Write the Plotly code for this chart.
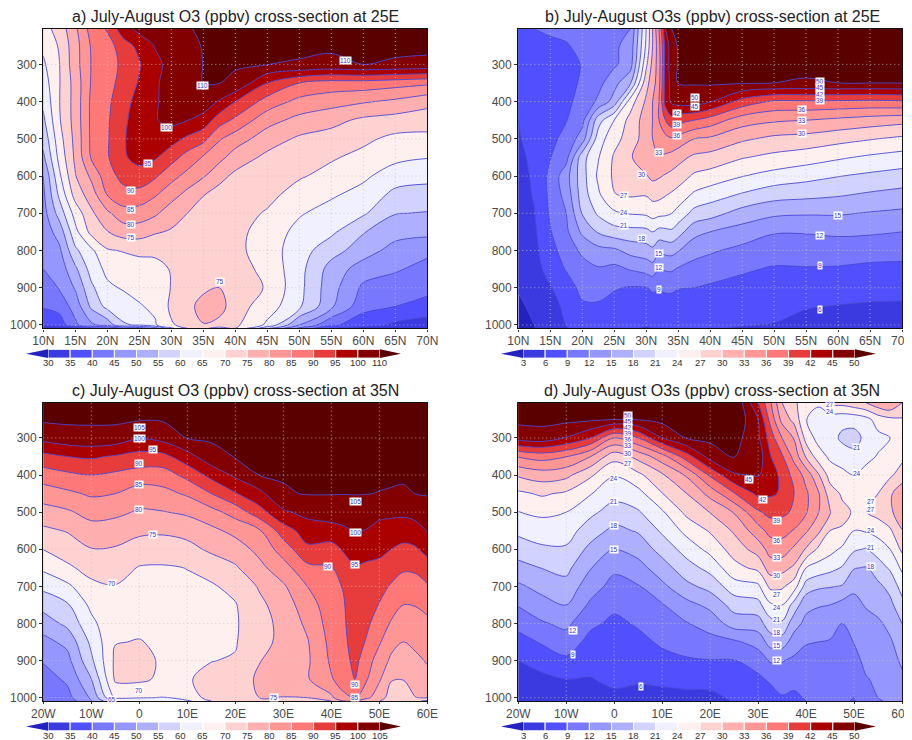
import numpy as np
import plotly.graph_objects as go

OFF = 8
W, H = 912, 740-OFF
P = [205,250,300,350,400,450,500,550,600,650,700,750,800,850,900,950,1000,1009]

COLORS = ["#2222c0","#3a3ae0","#5050ff","#7878ff","#9696ff","#afafff","#d2d2ff","#f0f0ff",
          "#fff0f0","#ffd2d2","#ffafaf","#ff9696","#ff7878","#e63c3c","#aa0000","#820000","#5a0000"]
LINE = "#4a4ad2"

levels_a = [30,35,40,45,50,55,60,65,70,75,80,85,90,95,100,110]
levels_b = [3,6,9,12,15,18,21,24,27,30,33,36,39,42,45,50]
levels_c = [30,35,40,45,50,55,60,65,70,75,80,85,90,95,100,105]
levels_d = levels_b

a_x = [10,12.5,15,17.5,20,22.5,25,27.5,30,32.5,35,37.5,40,45,50,55,60,65,70]
a_cols = [
[68,66,64.2,62.5,61,59,56.5,54,50,49,48,47.2,46,45,43,40.5,36,30],
[72,70.5,69.8,69.7,69.8,69.5,68,66.5,64,61,57,52,49,47,45.3,42,37,30],
[79,78,78,77,77,77,76.5,76,74.7,72,67,63.5,59,54,50.5,47,44,32],
[87,85.5,85.2,85.4,86,86,86,85.5,81,77.5,74,71.5,64,62,59,56,49,38],
[90.5,88,88,88.5,89,89.3,89.5,89.5,88,85.2,79,74.8,69.5,66.3,64,61.5,52,40],
[98,92.5,91,91.5,93,94,94.5,94.4,91.5,88.3,83,77.3,70.3,67.2,65.5,62.5,59.5,45],
[103,96.5,94.5,95.5,97,97.5,97.5,96.5,93,88.3,82.7,77.4,71,68,66.5,64.6,60.5,47],
[107,100.5,99,99.5,99.5,99.7,99.3,95.5,90.7,85.5,80.8,75.5,71,68.5,67,66,64.5,52],
[109,102,102.5,103,103.5,102.5,97,92,86.7,82,77.2,74.5,72,70.3,70.2,71,69.5,64],
[109.8,108.5,106.5,106.5,106,100.2,94,88,83.5,78.5,75,73.5,72.5,72,72.3,73.5,71.5,70],
[114,113,111.5,110.3,106,98,91.5,84.5,80.5,75.2,73,72.2,72,72,74,76.8,74.8,71],
[116,115,114,111,99.5,92.3,85.5,81.5,76.5,73.2,72,71.5,71.6,72,75,77,73.5,68],
[118,117,115,109,95,89,82.5,77.7,73.9,72.3,72,71.5,71.3,72.2,73.2,72.2,71,70],
[121,120,110.7,95,88,81.8,77.4,73.8,72,71.4,69.5,67.8,67.5,68.5,69.5,67.5,64,56],
[124,122,109.5,90,83.5,78.5,74.2,71.2,70.5,68,65.5,63.5,62.2,61.7,61.5,61,50,44],
[126,124,108,88,82,76.5,73,70.5,68.5,65.7,63,61,57,53,52,51,41,35],
[128,126,110.7,88,80.5,74,71,68.7,66,63.2,60.7,55.3,52.5,47.5,44,41.7,37,33],
[130,128,109,87,79,73,68.8,66.3,62.3,58.7,55.2,52,48,45.5,43,40,34,31],
[132,130,108,86,76.5,72.5,68.5,65.2,61.5,58,54.7,51.5,46,43.6,41.4,38.3,32.5,30],
]

b_x = [10,12.5,15,17.5,20,22.5,25,27.5,30,31,32,33,34,35,37.5,40,45,50,55,60,65,70]
b_cols = [
[8,7.8,7.5,7,6.6,6,5.8,5.5,5.3,5,4.8,4.5,4.2,3.8,3.2,2.5,2,2],
[9,8.3,8,7.8,7.5,7.2,6.9,6.5,6.3,6.2,5.9,5.5,5.2,4.7,4.2,3.6,3,2.9],
[9.3,8.6,8.4,8.3,8.2,8.1,8.3,8.9,9.8,9.7,9.4,8.8,8,7.3,5.8,5.2,4.5,4.2],
[10,8.7,8.4,8.3,8.5,8.9,9.8,11,13.8,13.1,12,11.4,10.3,9.2,7.7,6.5,6.1,5.8],
[11,10,9.1,9.3,9.8,11,13.5,19.9,19.8,19.5,18.2,15.6,12.6,10.8,9.8,8.6,7.5,7],
[11.5,10.8,10.5,11,12.6,19.7,22.5,23.8,24.5,23.5,21.5,18.3,14,11.7,9.9,8.7,7.4,7],
[11.8,11.5,11.5,14,16.2,24,26,27.4,27.5,26.9,23.5,19.7,14.4,11.2,9.2,8.2,7,6.5],
[12,13,13.6,17.5,25.5,28,28.3,29.7,29.2,27.4,24.2,20,16,12.2,8.8,8.1,6.9,6.3],
[24,24.5,26.3,29,30.5,31.4,31.5,31.8,29.8,27.2,24.5,20.2,16.7,13,8.9,8,6.2,5.8],
[30,30,31,31.5,33,33,33,32.6,30.7,28,25.2,21,17.3,13.7,9.3,8.1,6.2,6],
[36,35,34.6,35,36,36,35.5,32.7,30.3,27.9,24.8,20,15.5,11.9,9.2,8,6.3,6],
[45,43,43,43,43,39,35,32.5,29.7,27.2,24.6,20.2,15.9,12.3,9.4,8,6.3,6],
[50,48,48,47,46,41,35.7,31.8,29.2,26.6,24,20.5,16,12.4,9.4,8,6.4,6],
[55,54,53,51,47,40,35,31,28.6,25.8,23,19.2,15.2,11.7,9.1,8,6.4,6],
[60,58,56,53,47.5,39,33,29.4,26.5,23.5,20,16,13,11,9,7.9,6.5,6.1],
[62,60,58,56,45.3,37.7,32.5,28.9,25.8,22.4,19.2,15,12.4,10.4,8.6,7.7,6.5,6.2],
[65,63,60,53,40.8,34.4,30.5,27.2,24.1,20.7,16.8,13.7,11.2,9.4,8,7.3,6.1,5.8],
[65,63,58,50,38.5,33.4,29.3,26.2,22.9,19.2,15.6,12.2,10.4,8.7,7.8,6.9,5.9,5.5],
[65,63,58,49.7,38.6,33,28.9,25.4,22,18.8,15.3,12.2,10.4,8.8,7.5,6.2,5,4.8],
[65,63,58,50,38.5,32.3,28,24.4,21.1,18.3,15.3,12.5,10.5,8.7,7.3,5.9,4.8,4.6],
[65,63,58,50.5,38.3,31.6,27.2,23.5,20.4,17.6,14.8,12.4,10.1,8.4,7,5.7,4.7,4.5],
[65,63,58,50.5,38.6,31,26.4,22.8,19.8,17,14.4,12,10,8.3,7,5.6,4.6,4.4],
]

c_x = [-20,-15,-10,-5,0,5,10,15,20,25,30,35,40,42.5,45,47.5,50,52.5,55,57.5,60]
c_cols = [
[118,112,101.5,93.5,87.5,82.5,78,74,70.1,66,61.2,56.8,52.3,48.5,45.4,43,41,40],
[118,113,103,95,89,84,79.3,75.3,72.4,69.1,64,59.4,56.3,51.3,48.4,45.8,43.5,42],
[118,112,103.5,95.7,90,85.7,81.7,78,74.8,71.8,68.8,66.2,63.7,61.2,59,54.9,50.7,49.8],
[118,113,103,94.5,89,85,81,77.8,74.5,72,69.8,69,69.1,69.8,71,70.8,66,60],
[120,109,100.3,93,88,82.3,79.5,76,72.8,69.7,69,68.8,69,70.2,71.5,71,65.3,62],
[118,110,101.8,93.5,87.7,83.5,79.8,75.7,72.7,69.5,68.9,68.9,69,69.2,69.3,69,64.8,60],
[120,113,106.7,98,91.5,85.7,80.8,76.8,73.3,70.1,69.2,69.3,69.5,69.5,69.7,69.7,68.5,64],
[125,118,111,103.3,96.5,90,83.3,78.8,76,71.7,69.5,69.5,69.6,69.7,69.9,71,71,70],
[128,122,113,108,100.9,94.6,87,81.4,77.6,74.4,71.3,69.7,69.5,69.7,70.3,72.5,71.7,71],
[130,125,116,110,105.3,98.5,93,84.3,81.4,78.6,75.5,73.9,73,73.1,74.8,75.8,75,72],
[132,127,120,113,108,104.6,99.2,92.5,87.2,83,79.3,77.3,76.5,76.5,77,77,74.9,73],
[133,128,122,117,112,107.2,101.5,97.3,94,88.7,85,82.8,81,79.6,79.2,79.5,75,72],
[133,129,123,117,112,106.4,102.9,97.7,93.3,89.8,88.5,87.7,87.2,86.5,85.8,84.6,79,75],
[133,129,123,117,112,106.2,102.5,99.1,95.4,92.8,90.3,89.5,89.1,88.7,88,87,84,80],
[133,129,124,118,112,106.3,103.3,100.4,97.4,94.5,93.8,93.5,93.2,92.5,91.5,90.3,85,80],
[133,129,124,118,112,105.8,102.6,99.7,96.3,94.3,92.5,91.5,90.8,89.3,86.7,85.1,81,76],
[133,129,124,118,111,104.9,101.2,98.5,96.1,93.8,91.6,89.8,87.6,85.5,83,80.7,77,75.2],
[133,129,124,118,111,104.7,101,98,95,92.2,89.5,87,84.5,81.7,79,75.3,73,72],
[133,129,124,118,110,104.5,101,97.4,93.8,90.6,88,85,82.4,80,77.8,75.2,71.8,71],
[133,129,124,117,109,105.4,101.8,97.9,94.4,90.9,88,85.2,83,81,79,77,74.9,71],
[133,129,124,117,108,107,103.6,100.3,96.5,92.8,89.5,86.5,83.8,82.2,80.4,78.6,75.3,69],
]

d_x = [-20,-15,-10,-5,0,5,10,15,20,25,30,32.5,35,37.5,40,42.5,45,47.5,50,52.5,55,57.5,60]
d_cols = [
[70,62,47,36.2,30.4,26.4,23.9,21.7,19.4,17,14.5,12.2,9.9,7.9,6,4.6,3.5,3.4],
[70,62,48,37.2,31.5,27.4,24.6,22.5,20.5,18.1,16,13.9,11.7,9.3,7.3,5.3,4,3.9],
[72,63,44.8,36.1,30.8,26.5,24,22.3,20.6,18.8,17,15,12.7,10.6,8.4,6,4.4,4.3],
[75,59,42,33.1,27.5,24.2,21.7,19.5,17.2,15.2,13.3,11.5,9.6,8.1,6.8,5.9,4.6,4.4],
[85,51,36,28.1,24.2,22,19.7,17.2,14.8,12.6,11,9.6,8.4,7.5,6.9,6.5,5.5,5.3],
[80,54,39,31,26.3,23,20.7,18.3,16.2,13.9,11.8,10.5,9.3,8.3,7.4,6.4,5,4.7],
[90,65,45,34.8,29.6,26.9,23.6,21.5,19.1,16.7,14.3,11.8,10.6,9.4,8.2,6.7,5,4.7],
[95,75,52,40.5,33.3,29.9,27.7,24.8,22.2,19.7,17.2,14,11.8,10.2,8.7,7,5.2,4.9],
[105,90,62,47,39.5,34,30.1,27.3,24.9,22,19,15.8,13.2,11,8.9,7.2,5.2,5],
[110,95,70,52,44.6,38.8,33.2,30.4,28.3,26,22.7,19.2,16.4,11.5,8.9,7.5,6.5,6.2],
[42,45,46,48,45.4,42.7,38.6,34.7,31.3,27.8,23.4,20,16.6,13.1,10.4,8.4,7,6.8],
[36.5,38.2,40.8,42.2,43.5,42.4,39.9,37,34.1,31.5,27.7,23.5,19.8,16.2,12.3,9.5,7.5,7.3],
[30,32,36,39.4,41.2,41.7,39.7,37,34.6,31,27.5,24,20.5,16.5,12.2,10.2,8.8,8.6],
[27.5,29,32.8,35,38,39,38.5,35.8,32.4,29.5,25.4,19.8,16.2,13.6,11.4,9.8,8.5,8.2],
[25.5,24.1,25.8,29.7,35,36.5,36.3,33.4,29.7,24,19.7,15.8,14.2,12.2,11,10,9.2,9],
[24.5,22.6,23,25.5,30.5,33.5,33.2,30.8,26.5,22.8,18.5,15.2,13.8,12,11,10.2,9.5,9.3],
[28,22,22.3,23.4,25.7,28.5,30.2,27,25,21.9,18.2,15,13.8,11.7,10.8,10.2,9.7,9.5],
[28,21.9,20.4,22.6,24.8,26.6,27.8,26.7,23.5,20.8,17.8,14,12,11,10.4,9.9,9.5,9.2],
[29,22,20,21.8,24,26,26.7,24,21.4,18.2,15.5,14.3,13.4,12.1,11,10,9,8.9],
[30,23,21.7,23.2,25,26.4,26.9,24.3,20.8,17.8,16,15.2,14.2,13.7,12.8,11.8,10.4,10],
[32,25.3,23.2,24.2,25.7,27,28,25.2,22.2,19.7,17.3,16.1,14.5,14,13.4,12.5,12,11.5],
[33,26.3,24,25,26.5,29.5,29.5,26.5,24,21.4,18.9,17.2,15.8,14.6,14,13.5,12.9,12.7],
[30,26.7,25.5,26.3,28.3,32,31.5,29.9,27.6,24.6,22.2,20,18,16.5,15.4,14.5,13.6,13.4],
]

a_labels = [(57.2,289,"110"),(34.9,357,"110"),(29.3,469,"100"),(26.4,566,"95"),(23.7,639,"90"),(23.7,689,"85"),(23.7,730,"80"),(23.7,765,"75"),(37.6,883,"75")]
b_labels = [(37.7,388,"50"),(37.7,413,"45"),(34.8,432,"42"),(34.8,461,"39"),(34.8,492,"36"),(32,537,"33"),(29.3,595,"30"),(26.5,652,"27"),(26.5,698,"24"),(26.5,733,"21"),(29.3,768,"18"),(32,807,"15"),(32,847,"12"),(32,904,"9"),
            (57.2,346,"50"),(57.2,363,"45"),(57.2,381,"42"),(57.2,398,"39"),(54.4,422,"36"),(54.4,450,"33"),(54.4,486,"30"),(60,705,"15"),(57.2,759,"12"),(57.2,841,"9"),(57.2,958,"6")]
c_labels = [(0,273,"105"),(0,302,"100"),(2.8,332,"95"),(0,370,"90"),(0,426,"85"),(0,494,"80"),(2.8,559,"75"),(-5.6,693,"70"),(45,471,"105"),(45,556,"100"),(45,641,"95"),(39.4,646,"90"),(45,964,"90"),(45,1000,"85"),(28,1000,"75"),(0,982,"70"),(-5.6,1005,"65")]
d_labels = [(2.8,240,"50"),(2.8,257,"45"),(2.8,273,"42"),(2.8,288,"39"),(2.8,304,"36"),(2.8,321,"33"),(2.8,341,"30"),(2.8,368,"27"),(0,409,"24"),(0,472,"21"),(0,537,"18"),(0,600,"15"),(-8.5,820,"12"),(-8.5,885,"9"),(5.6,970,"6"),
            (28.2,411,"45"),(31,467,"42"),(33.9,523,"39"),(33.9,576,"36"),(33.9,623,"33"),(33.9,672,"30"),(33.9,721,"27"),(33.9,756,"24"),(33.9,790,"21"),(33.9,824,"18"),(33.9,859,"15"),(33.9,900,"12"),
            (45,210,"27"),(45,228,"24"),(50.7,327,"21"),(50.7,395,"24"),(53.5,472,"27"),(53.5,492,"27"),(53.5,550,"24"),(53.5,594,"21"),(53.5,647,"18")]

lat_ticks = list(range(10,71,5))
lat_text = [f"{v}N" for v in lat_ticks]
lon_ticks = list(range(-20,61,10))
lon_text = ["20W","10W","0","10E","20E","30E","40E","50E","60E"]
p_ticks = list(range(300,1001,100))

panels = [
 dict(t="a) July-August O3 (ppbv) cross-section at 25E", x=a_x, cols=a_cols, lv=levels_a, lab=a_labels, tv=lat_ticks, tt=lat_text, gx=lat_ticks, box=(43.3,427.3,29,328.3), rng=(10,70)),
 dict(t="b) July-August O3s (ppbv) cross-section at 25E", x=b_x, cols=b_cols, lv=levels_b, lab=b_labels, tv=lat_ticks, tt=lat_text, gx=lat_ticks, box=(518.3,902,29,328.3), rng=(10,70)),
 dict(t="c) July-August O3 (ppbv) cross-section at 35N", x=c_x, cols=c_cols, lv=levels_c, lab=c_labels, tv=lon_ticks, tt=lon_text, gx=lon_ticks, box=(43.3,427.3,402.7,701), rng=(-20,60)),
 dict(t="d) July-August O3s (ppbv) cross-section at 35N", x=d_x, cols=d_cols, lv=levels_d, lab=d_labels, tv=lon_ticks, tt=lon_text, gx=lon_ticks, box=(518.3,902,402.7,701), rng=(-20,60)),
]

FONT = "Liberation Sans"
TICK = "#4a4a4a"
fig = go.Figure()
shapes, annos = [], []
cs = [[i/16, c] for i, c in enumerate(COLORS)]

def px(x): return (x-OFF)/W
def py(y): return 1-(y-OFF)/H

for i, pn in enumerate(panels, start=1):
    l, r, t, b = pn["box"]
    xa, ya = f"x{i}", f"y{i}"
    lv = pn["lv"]
    n = len(lv)
    lo, hi = lv[0]-(lv[1]-lv[0]), lv[-1]+(lv[-1]-lv[-2])*10
    z = np.array(pn["cols"], dtype=float).T
    zi = np.interp(z, [lo]+lv+[hi], list(range(-1, n+1)))
    fig.add_trace(go.Contour(x=pn["x"], y=P, z=zi, xaxis=xa, yaxis=ya, colorscale=cs, showscale=False,
        autocontour=False, contours=dict(start=0, end=n-1, size=1, coloring="fill", showlines=True),
        line=dict(color=LINE, width=0.9, smoothing=1.0), hoverinfo="skip"))
    axk = dict(showline=True, mirror=True, linecolor="#111", linewidth=1.4, ticks="outside", tickwidth=1,
               tickcolor="#333", showgrid=False, zeroline=False, automargin=False,
               tickfont=dict(family=FONT, size=12, color=TICK))
    fig.update_layout(**{
        f"xaxis{i}": dict(domain=[px(l), px(r)], range=list(pn["rng"]), tickvals=pn["tv"], ticktext=pn["tt"], anchor=ya,
                          ticklen=2, ticklabelstandoff=-1, **axk),
        f"yaxis{i}": dict(domain=[py(b), py(t)], range=[1009,205], tickvals=p_ticks, anchor=xa, ticklen=3, **axk),
    })
    for gv in pn["gx"][1:-1]:
        shapes.append(dict(type="line", xref=xa, yref=ya, x0=gv, x1=gv, y0=205, y1=1009, layer="above",
                           line=dict(color="#c4c4c4", width=0.8, dash="1px,3px")))
    for gv in p_ticks:
        shapes.append(dict(type="line", xref=xa, yref=ya, x0=pn["rng"][0], x1=pn["rng"][1], y0=gv, y1=gv, layer="above",
                           line=dict(color="#c4c4c4", width=0.8, dash="1px,3px")))
    annos.append(dict(text=pn["t"], xref="paper", yref="paper", x=px((l+r)/2+(0.5 if i%2 else 2)), y=py(t-12), showarrow=False,
                      font=dict(family=FONT, size=16, color="#222"), xanchor="center", yanchor="middle"))
    for lx, lp, txt in pn["lab"]:
        annos.append(dict(text=txt, x=lx, y=lp, xref=xa, yref=ya, showarrow=False, bgcolor="white", borderpad=0,
                          font=dict(family=FONT, size=6.5, color="#3333cc"), xanchor="center", yanchor="middle"))
    # colour key
    x0 = l+4.7; step = 22.13
    top = b+21; bot = b+29.8
    for k in range(n-1):
        shapes.append(dict(type="rect", xref="paper", yref="paper", x0=px(x0+k*step), x1=px(x0+(k+1)*step), y0=py(bot), y1=py(top),
                           fillcolor=COLORS[k+1], line=dict(color="white", width=1)))
    shapes.append(dict(type="path", xref="paper", yref="paper", fillcolor=COLORS[0], line=dict(width=0),
        path=f"M {px(x0)} {py(top)} L {px(x0)} {py(bot)} L {px(x0-22)} {py((top+bot)/2)} Z"))
    xe = x0+(n-1)*step
    shapes.append(dict(type="path", xref="paper", yref="paper", fillcolor=COLORS[-1], line=dict(width=0),
        path=f"M {px(xe)} {py(top)} L {px(xe)} {py(bot)} L {px(xe+21)} {py((top+bot)/2)} Z"))
    for k, v in enumerate(lv):
        annos.append(dict(text=str(v), xref="paper", yref="paper", x=px(x0+k*step), y=py(b+34.5), showarrow=False,
                          font=dict(family=FONT, size=9.5, color="#333"), xanchor="center", yanchor="middle"))

fig.update_layout(width=W, height=H, margin=dict(l=0,r=0,t=0,b=0), paper_bgcolor="white", plot_bgcolor="white",
                  shapes=shapes, annotations=annos, showlegend=False)
fig.write_html("out.html")
